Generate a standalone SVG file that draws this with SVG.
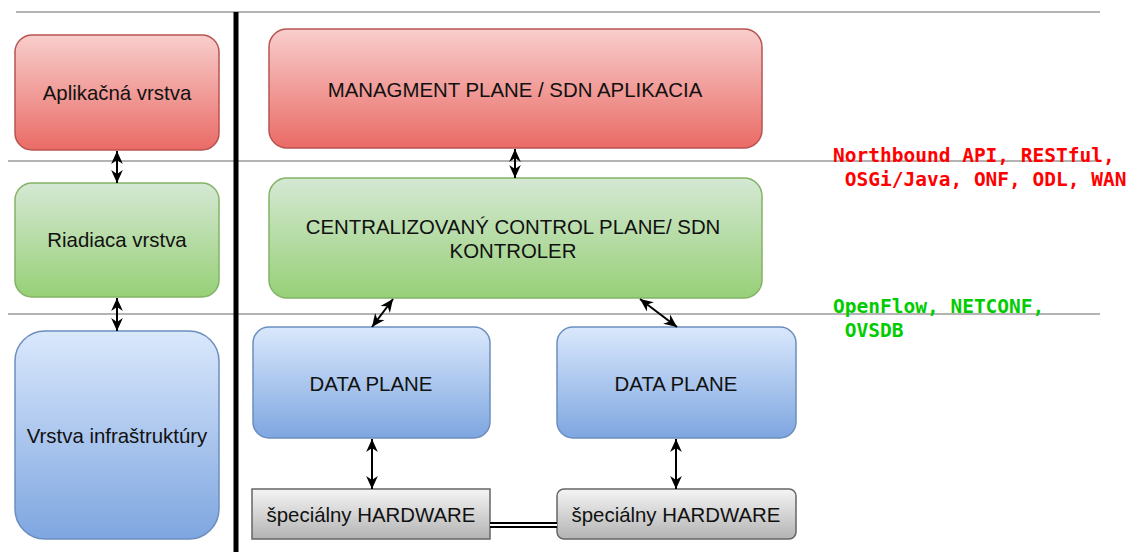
<svg xmlns="http://www.w3.org/2000/svg" width="1139" height="552" viewBox="0 0 1139 552">
  <style>
    .lbl { font-family: "Liberation Sans", Arial, sans-serif; font-size: 20.4px; fill: #111; text-anchor: middle; }
    .api { font-family: "DejaVu Sans Mono", "Liberation Mono", monospace; font-size: 19.5px; font-weight: bold; white-space: pre; }
    .sep { stroke: #b3b3b3; stroke-width: 2; }
    .red { fill: url(#gRed); stroke: #b85450; stroke-width: 1.5; }
    .green { fill: url(#gGreen); stroke: #82b366; stroke-width: 1.5; }
    .blue { fill: url(#gBlue); stroke: #6c8ebf; stroke-width: 1.5; }
    .grey { fill: url(#gGrey); stroke: #666666; stroke-width: 1.5; }
    .conn { stroke: #000; stroke-width: 2; fill: none; marker-start: url(#arr); marker-end: url(#arr); }
  </style>
  <defs>
    <linearGradient id="gRed" x1="0" y1="0" x2="0" y2="1">
      <stop offset="0" stop-color="#f8cecc"/>
      <stop offset="1" stop-color="#ea6b66"/>
    </linearGradient>
    <linearGradient id="gGreen" x1="0" y1="0" x2="0" y2="1">
      <stop offset="0" stop-color="#d5e8d4"/>
      <stop offset="1" stop-color="#97d077"/>
    </linearGradient>
    <linearGradient id="gBlue" x1="0" y1="0" x2="0" y2="1">
      <stop offset="0" stop-color="#dae8fc"/>
      <stop offset="1" stop-color="#7ea6e0"/>
    </linearGradient>
    <linearGradient id="gGrey" x1="0" y1="0" x2="0" y2="1">
      <stop offset="0" stop-color="#f5f5f5"/>
      <stop offset="1" stop-color="#b3b3b3"/>
    </linearGradient>
    <marker id="arr" viewBox="0 0 10 10" refX="10" refY="5" markerWidth="13" markerHeight="13" markerUnits="userSpaceOnUse" orient="auto-start-reverse">
      <path d="M0,0.5 L10,5 L0,9.5 L3,5 z" fill="#000"/>
    </marker>
  </defs>

  <rect width="1139" height="552" fill="#ffffff"/>

  <g id="separators">
    <line class="sep" x1="16" y1="12" x2="1100" y2="12"/>
    <line class="sep" x1="8" y1="161" x2="1100" y2="161"/>
    <line class="sep" x1="8" y1="314" x2="1100" y2="314"/>
    <line x1="236" y1="12" x2="236" y2="552" stroke="#000" stroke-width="5"/>
  </g>

  <g id="app-layer">
    <rect class="red" x="15" y="35" width="204" height="115" rx="17"/>
    <text class="lbl" x="117" y="100">Aplikačná vrstva</text>
  </g>
  <g id="control-layer">
    <rect class="green" x="15" y="183" width="204" height="114" rx="17"/>
    <text class="lbl" x="117" y="247">Riadiaca vrstva</text>
  </g>
  <g id="infra-layer">
    <rect class="blue" x="15" y="331" width="204" height="208" rx="30"/>
    <text class="lbl" x="117" y="443">Vrstva infraštruktúry</text>
  </g>

  <g id="management-plane">
    <rect class="red" x="269" y="29" width="493" height="119" rx="18"/>
    <text class="lbl" x="515" y="97">MANAGMENT PLANE / SDN APLIKACIA</text>
  </g>
  <g id="control-plane">
    <rect class="green" x="269" y="178" width="493" height="120" rx="18"/>
    <text class="lbl" x="513" y="234">CENTRALIZOVANÝ CONTROL PLANE/ SDN</text>
    <text class="lbl" x="513" y="258">KONTROLER</text>
  </g>
  <g id="data-plane-1">
    <rect class="blue" x="253" y="327" width="237" height="111" rx="16"/>
    <text class="lbl" x="371" y="391">DATA PLANE</text>
  </g>
  <g id="data-plane-2">
    <rect class="blue" x="557" y="327" width="239" height="111" rx="16"/>
    <text class="lbl" x="676" y="391">DATA PLANE</text>
  </g>
  <g id="hardware-1">
    <rect class="grey" x="252" y="489" width="238" height="50" rx="0"/>
    <text class="lbl" x="371" y="522">špeciálny HARDWARE</text>
  </g>
  <g id="hardware-2">
    <rect class="grey" x="557" y="489" width="239" height="50" rx="7"/>
    <text class="lbl" x="676" y="522">špeciálny HARDWARE</text>
  </g>

  <g id="connectors">
    <line class="conn" x1="117" y1="151" x2="117" y2="183"/>
    <line class="conn" x1="117" y1="298" x2="117" y2="331"/>
    <line class="conn" x1="515" y1="149" x2="515" y2="178"/>
    <line class="conn" x1="393" y1="299" x2="372" y2="327"/>
    <line class="conn" x1="640" y1="299" x2="677" y2="327"/>
    <line class="conn" x1="372" y1="439" x2="372" y2="489"/>
    <line class="conn" x1="676" y1="439" x2="676" y2="489"/>
    <line x1="490" y1="525" x2="557" y2="525" stroke="#000" stroke-width="6"/>
    <line x1="490" y1="525" x2="557" y2="525" stroke="#fff" stroke-width="2"/>
  </g>

  <g id="api-labels">
    <text class="api" x="833" y="162" fill="#ff0000">Northbound API, RESTful,</text>
    <text class="api" x="833" y="186" fill="#ff0000"> OSGi/Java, ONF, ODL, WAN</text>
    <text class="api" x="833" y="313" fill="#00cc00">OpenFlow, NETCONF,</text>
    <text class="api" x="833" y="337" fill="#00cc00"> OVSDB</text>
  </g>
</svg>
